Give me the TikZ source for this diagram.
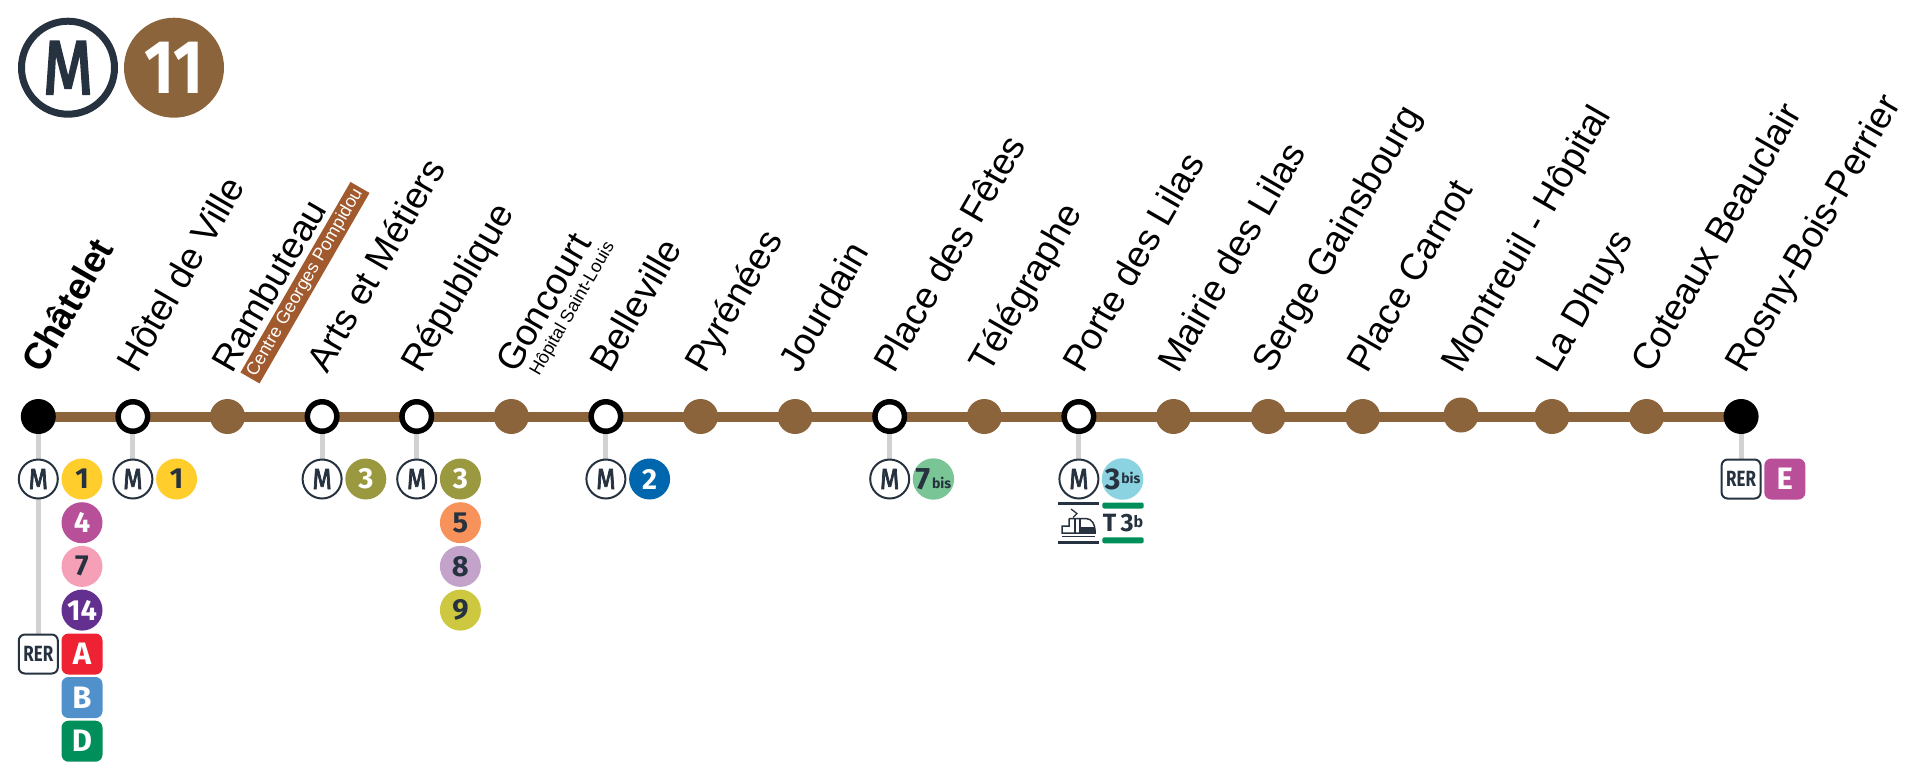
\documentclass[tikz,border=0pt]{standalone}
\usepackage{fontspec}
\usetikzlibrary{backgrounds}
\setmainfont{Liberation Sans}
\newfontfamily\signfont{Fira Sans}
\newfontfamily\metrofont[FakeBold=3]{Fira Sans}
\definecolor{lineBrown}{HTML}{8C643C}
\definecolor{bandBrown}{HTML}{A15A2D}
\definecolor{signDark}{HTML}{26323F}
\definecolor{connGray}{HTML}{D2D2D2}
\definecolor{tramGreen}{HTML}{008F5B}
\definecolor{lineOne}{HTML}{FFCD2C}
\definecolor{lineTwo}{HTML}{0067AE}
\definecolor{lineThree}{HTML}{9B993F}
\definecolor{lineThreeBis}{HTML}{8BD3E0}
\definecolor{lineFour}{HTML}{B74F99}
\definecolor{lineFive}{HTML}{F7925A}
\definecolor{lineSeven}{HTML}{F5A0B6}
\definecolor{lineSevenBis}{HTML}{79C596}
\definecolor{lineEight}{HTML}{C4A3CB}
\definecolor{lineNine}{HTML}{CDC83F}
\definecolor{lineFourteen}{HTML}{643090}
\definecolor{rerA}{HTML}{EE2233}
\definecolor{rerB}{HTML}{5091CB}
\definecolor{rerE}{HTML}{B94F99}
\tikzset{
	stop/.style={circle,fill=lineBrown,minimum size=35,inner sep=0},
	hub/.style={circle,draw=black,line width=5.5,fill=white,minimum size=29.5,inner sep=0},
	term/.style={circle,fill=black,minimum size=35,inner sep=0},
	stname/.style={anchor=base west,rotate=60,font=\fontsize{37}{37}\selectfont,inner sep=0},
	stsub/.style={anchor=base west,rotate=60,font=\fontsize{18}{18}\selectfont,inner sep=0},
	msign/.style={circle,draw=signDark,line width=2,fill=white,minimum size=39,inner sep=0,text=signDark,font=\metrofont\fontsize{29}{29}\selectfont},
	rersign/.style={rectangle,rounded corners=6,draw=signDark,line width=2,fill=white,minimum size=39,inner sep=0,text=signDark,font=\signfont\bfseries\fontsize{22}{22}\selectfont},
	mline/.style={circle,fill=#1,minimum size=41,inner sep=0,text=signDark,font=\signfont\bfseries\fontsize{29}{29}\selectfont},
	mlinew/.style={mline=#1,text=white},
	rline/.style={rectangle,rounded corners=7,fill=#1,minimum size=41,inner sep=0,text=white,font=\signfont\bfseries\fontsize{31}{31}\selectfont},
	conn/.style={connGray,line width=5},
	track/.style={lineBrown,line width=10},
}
\begin{document}
\begin{tikzpicture}[x=1pt,y=-1pt]
	\useasboundingbox (0,0) rectangle (1920,780);
	% header
	\node[circle,draw=signDark,line width=7,fill=white,minimum size=93,inner sep=0,text=signDark,font=\metrofont\fontsize{76}{76}\selectfont] (logoM) at (68,67.7) {\scalebox{.85}[1]{M}};
	\node[circle,fill=lineBrown,minimum size=100,inner sep=0,text=white,font=\signfont\bfseries\fontsize{76}{76}\selectfont] (logoLine) at (174,67.7) {\scalebox{.85}[1]{11}};
	% stations
	\node[term] (chatelet) at (38.3,416.5) {};
	\node[hub] (hotelville) at (132.9,416.5) {};
	\node[stop] (rambuteau) at (227.5,416.5) {};
	\node[hub] (artsmetiers) at (322.1,416.5) {};
	\node[hub] (republique) at (416.7,416.5) {};
	\node[stop] (goncourt) at (511.3,416.5) {};
	\node[hub] (belleville) at (605.9,416.5) {};
	\node[stop] (pyrenees) at (700.5,416.5) {};
	\node[stop] (jourdain) at (795.1,416.5) {};
	\node[hub] (placefetes) at (889.7,416.5) {};
	\node[stop] (telegraphe) at (984.3,416.5) {};
	\node[hub] (portelilas) at (1078.9,416.5) {};
	\node[stop] (mairielilas) at (1173.5,416.5) {};
	\node[stop] (gainsbourg) at (1268.1,416.5) {};
	\node[stop] (placecarnot) at (1362.7,416.5) {};
	\node[stop] (montreuil) at (1461,415) {};
	\node[stop] (dhuys) at (1551.9,416.5) {};
	\node[stop] (coteaux) at (1646.5,416.5) {};
	\node[term] (rosny) at (1741.1,416.5) {};
	% names
	\node[stname,font=\fontsize{37}{37}\selectfont\bfseries] (nChatelet) at (42,375) {Châtelet};
	\node[stname] (nHotel) at (137,375) {Hôtel de Ville};
	\node[stname] (nRambuteau) at (232,375) {Rambuteau};
	\node[stname] (nArts) at (327,375) {Arts et Métiers};
	\node[stname] (nRepublique) at (421,375) {République};
	\node[stname] (nGoncourt) at (516,375) {Goncourt};
	\node[stname] (nBelleville) at (610,375) {Belleville};
	\node[stname] (nPyrenees) at (705,375) {Pyrénées};
	\node[stname] (nJourdain) at (799,375) {Jourdain};
	\node[stname] (nFetes) at (894,375) {Place des Fêtes};
	\node[stname] (nTelegraphe) at (989,375) {Télégraphe};
	\node[stname] (nPorte) at (1083,375) {Porte des Lilas};
	\node[stname] (nMairie) at (1178,375) {Mairie des Lilas};
	\node[stname] (nSerge) at (1272,375) {Serge Gainsbourg};
	\node[stname] (nCarnot) at (1367,375) {Place Carnot};
	\node[stname] (nMontreuil) at (1461,375) {Montreuil - Hôpital};
	\node[stname] (nDhuys) at (1556,375) {La Dhuys};
	\node[stname] (nCoteaux) at (1651,375) {Coteaux Beauclair};
	\node[stname] (nRosny) at (1745,375) {Rosny-Bois-Perrier};
	\node[rectangle,rotate=60,fill=bandBrown,minimum width=220,minimum height=22,inner sep=0,text=white,font=\fontsize{18}{18}\selectfont] (subRambuteau) at (305,282.7) {Centre Georges Pompidou};
	\node[stsub] (subGoncourt) at (539,377) {Hôpital Saint-Louis};
	% correspondences
	\node[msign] (mChatelet) at (38.3,479) {\scalebox{.85}[1]{M}};
	\node[rersign] (rerChatelet) at (38.3,654) {\scalebox{.77}[1]{RER}};
	\node[mline=lineOne] (chat1) at (82,479) {1};
	\node[mlinew=lineFour] (chat4) at (82,522.7) {4};
	\node[mline=lineSeven] (chat7) at (82,566.4) {7};
	\node[mlinew=lineFourteen] (chat14) at (82,610.1) {14};
	\node[rline=rerA] (chatA) at (82,654) {A};
	\node[rline=rerB] (chatB) at (82,697.5) {B};
	\node[rline=tramGreen] (chatD) at (82,741.2) {D};
	\node[msign] (mHotel) at (132.9,479) {\scalebox{.85}[1]{M}};
	\node[mline=lineOne] (hotel1) at (176.6,479) {1};
	\node[msign] (mArts) at (322.1,479) {\scalebox{.85}[1]{M}};
	\node[mlinew=lineThree] (arts3) at (365.8,479) {3};
	\node[msign] (mRep) at (416.7,479) {\scalebox{.85}[1]{M}};
	\node[mlinew=lineThree] (rep3) at (460.4,479) {3};
	\node[mline=lineFive] (rep5) at (460.4,522.7) {5};
	\node[mline=lineEight] (rep8) at (460.4,566.4) {8};
	\node[mline=lineNine] (rep9) at (460.4,610.1) {9};
	\node[msign] (mBelleville) at (605.9,479) {\scalebox{.85}[1]{M}};
	\node[mlinew=lineTwo] (belle2) at (649.6,479) {2};
	\node[msign] (mFetes) at (889.7,479) {\scalebox{.85}[1]{M}};
	\node[mline=lineSevenBis] (fetes7) at (933.4,479) {{\fontsize{31}{31}\selectfont 7}\kern2pt\raisebox{1pt}{\fontsize{14}{14}\selectfont bis}};
	\node[msign] (mPorte) at (1078.9,479) {\scalebox{.85}[1]{M}};
	\node[mline=lineThreeBis] (porte3) at (1122.6,479) {{\fontsize{30}{30}\selectfont 3}\kern1pt\raisebox{6pt}{\fontsize{14}{14}\selectfont bis}};
	\node[rersign] (rerRosny) at (1741.1,479) {\scalebox{.77}[1]{RER}};
	\node[rline=rerE] (rosnyE) at (1784.8,479) {E};
	% tram
	\fill[signDark] (1058.3,502) rectangle (1099.3,505);
	\fill[signDark] (1058.3,540.5) rectangle (1099.3,543.5);
	\fill[tramGreen,rounded corners=2] (1102.3,502.5) rectangle (1143.7,508.5);
	\fill[tramGreen,rounded corners=2] (1102.3,537.3) rectangle (1143.7,543.3);
	\node[text=signDark,inner sep=0,font=\signfont\bfseries\fontsize{25}{25}\selectfont] (tramT3b) at (1123,523) {T\,3\raisebox{4pt}{\fontsize{16}{16}\selectfont b}};
	% tram icon
	\draw[signDark,line width=1.3] (1071,509) -- (1077,513.5) -- (1073,517.5);
	\draw[signDark,line width=1.5] (1069,518.5) -- (1086,518.5) .. controls (1092,518.5) and (1095,525) .. (1095,530) -- (1095,533) -- (1062,533) -- (1062,526) -- (1069,526) -- (1069,518.5);
	\draw[signDark,line width=1.3] (1075,519) -- (1075,533);
	\draw[signDark,line width=1.3] (1080,519) -- (1080,533);
	\fill[signDark] (1081,527) rectangle (1095,533);
	\fill[signDark] (1062,535.5) rectangle (1095,537);
	% track and connectors go behind the stations
	\begin{scope}[on background layer]
	\draw[track] (chatelet.center) -- (hotelville.center);
	\draw[track] (hotelville.center) -- (rambuteau.center);
	\draw[track] (rambuteau.center) -- (artsmetiers.center);
	\draw[track] (artsmetiers.center) -- (republique.center);
	\draw[track] (republique.center) -- (goncourt.center);
	\draw[track] (goncourt.center) -- (belleville.center);
	\draw[track] (belleville.center) -- (pyrenees.center);
	\draw[track] (pyrenees.center) -- (jourdain.center);
	\draw[track] (jourdain.center) -- (placefetes.center);
	\draw[track] (placefetes.center) -- (telegraphe.center);
	\draw[track] (telegraphe.center) -- (portelilas.center);
	\draw[track] (portelilas.center) -- (mairielilas.center);
	\draw[track] (mairielilas.center) -- (gainsbourg.center);
	\draw[track] (gainsbourg.center) -- (placecarnot.center);
	\draw[track] (placecarnot.center) -- (dhuys.center);
	\draw[track] (dhuys.center) -- (coteaux.center);
	\draw[track] (coteaux.center) -- (rosny.center);
	\draw[conn] (chatelet.center) -- (mChatelet.center);
	\draw[conn] (mChatelet.center) -- (rerChatelet.center);
	\draw[conn] (hotelville.center) -- (mHotel.center);
	\draw[conn] (artsmetiers.center) -- (mArts.center);
	\draw[conn] (republique.center) -- (mRep.center);
	\draw[conn] (belleville.center) -- (mBelleville.center);
	\draw[conn] (placefetes.center) -- (mFetes.center);
	\draw[conn] (portelilas.center) -- (mPorte.center);
	\draw[conn] (rosny.center) -- (rerRosny.center);
	\end{scope}
\end{tikzpicture}
\end{document}
